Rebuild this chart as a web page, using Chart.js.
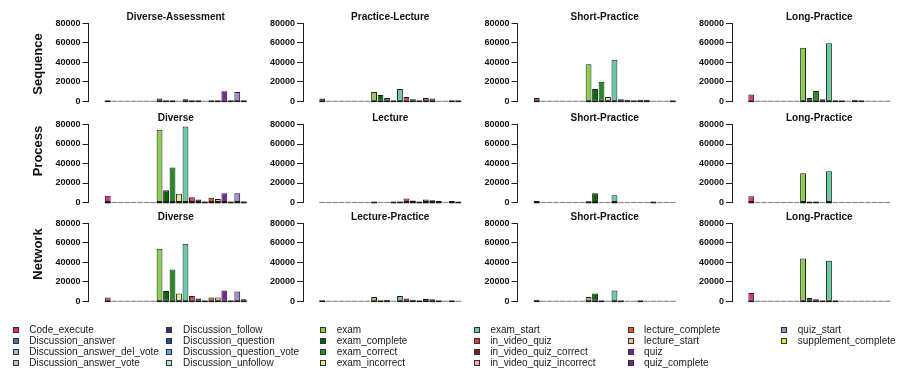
<!DOCTYPE html>
<html>
<head>
<meta charset="utf-8">
<script src="https://cdn.jsdelivr.net/npm/chart.js@4.4.1/dist/chart.umd.min.js"></script>
<style>
  html, body { margin: 0; padding: 0; background: #ffffff; }
  #wrap { position: relative; width: 897px; height: 371px; overflow: hidden; font-family: "Liberation Sans", Arial, sans-serif; }
  #wrap canvas { position: absolute; }
  .rowlab { position: absolute; font-weight: bold; font-size: 13px; color: #111; white-space: nowrap; transform: translate(-50%, -50%) rotate(-90deg); line-height: 15px; }
  .legtxt { position: absolute; font-size: 10px; line-height: 12px; color: #1a1a1a; white-space: nowrap; }
  .legsw { position: absolute; width: 6px; height: 6px; box-sizing: border-box; border: 1px solid #333; }
</style>
</head>
<body>
<div id="wrap"></div>
<script>
// Event types (one bar per type, same order in every panel)
const categories = [
  'Code_execute', 'Discussion_answer', 'Discussion_answer_del_vote', 'Discussion_answer_vote',
  'Discussion_follow', 'Discussion_question', 'Discussion_question_vote', 'Discussion_unfollow',
  'exam', 'exam_complete', 'exam_correct', 'exam_incorrect',
  'exam_start', 'in_video_quiz', 'in_video_quiz_correct', 'in_video_quiz_incorrect',
  'lecture_complete', 'lecture_start', 'quiz', 'quiz_complete',
  'quiz_start', 'supplement_complete'
];
const categoryColors = [
  '#E7298A', '#3A70B8', '#A6B8D8', '#BEC4CA',
  '#3B2D8C', '#1F4F8F', '#4EB3D3', '#A8E0E0',
  '#8CCF4D', '#006400', '#228B22', '#D9EE8F',
  '#66CDA0', '#E8383D', '#8B1A1A', '#F4A7B0',
  '#E8521F', '#F2C28E', '#7B1FA2', '#6E2C7A',
  '#A58BD6', '#E5E13A'
];

const rowNames = ['Sequence', 'Process', 'Network'];
const panelTitles = [
  ['Diverse-Assessment', 'Practice-Lecture', 'Short-Practice', 'Long-Practice'],
  ['Diverse', 'Lecture', 'Short-Practice', 'Long-Practice'],
  ['Diverse', 'Lecture-Practice', 'Short-Practice', 'Long-Practice']
];
const yTickValues = [0, 20000, 40000, 60000, 80000];

// Event counts per cluster
const seqDiverseAssessment = [800, 0, 0, 0, 0, 0, 0, 0, 2800, 400, 400, 0, 2000, 300, 300, 0, 300, 300, 10300, 300, 9500, 300];
const seqPracticeLecture   = [3000, 0, 0, 0, 0, 0, 0, 0, 9500, 6500, 3500, 300, 12500, 4500, 2000, 300, 3500, 2800, 0, 0, 400, 400];
const seqShortPractice     = [3500, 0, 0, 0, 0, 0, 0, 0, 38000, 12500, 20000, 4500, 42500, 2000, 1500, 500, 1500, 1500, 0, 0, 0, 500];
const seqLongPractice      = [7000, 0, 0, 0, 0, 0, 0, 0, 55000, 3300, 10500, 2200, 59500, 1200, 500, 0, 1300, 500, 0, 0, 0, 0];

const procDiverse          = [7000, 0, 0, 0, 0, 0, 0, 0, 74500, 12500, 36000, 9000, 78000, 5500, 3000, 800, 5000, 3500, 9500, 800, 9500, 1000];
const procLecture          = [0, 0, 0, 0, 0, 0, 0, 0, 600, 0, 0, 300, 700, 4000, 2000, 500, 3000, 2300, 1500, 0, 1500, 300];
const procShortPractice    = [1500, 0, 0, 0, 0, 0, 0, 0, 1200, 9500, 0, 0, 7500, 0, 0, 0, 0, 0, 400, 0, 0, 0];
const procLongPractice     = [6500, 0, 0, 0, 0, 0, 0, 0, 30000, 500, 500, 0, 32000, 0, 0, 0, 0, 0, 0, 0, 0, 0];

const netDiverse           = [3800, 0, 0, 0, 0, 0, 0, 0, 54000, 10500, 32500, 8000, 59000, 5500, 2800, 500, 3800, 3800, 11000, 500, 10000, 2000];
const netLecturePractice   = [1000, 0, 0, 0, 0, 0, 0, 0, 4500, 800, 1500, 0, 5500, 3000, 1500, 500, 2500, 2000, 500, 0, 500, 0];
const netShortPractice     = [1500, 0, 0, 0, 0, 0, 0, 0, 4500, 8000, 500, 0, 11000, 500, 0, 0, 500, 0, 0, 0, 0, 0];
const netLongPractice      = [8500, 0, 0, 0, 0, 0, 0, 0, 44000, 3500, 2000, 500, 41500, 500, 0, 0, 0, 0, 0, 0, 0, 0];

const panelValues = [
  [seqDiverseAssessment, seqPracticeLecture, seqShortPractice, seqLongPractice],
  [procDiverse, procLecture, procShortPractice, procLongPractice],
  [netDiverse, netLecturePractice, netShortPractice, netLongPractice]
];

// Grid geometry
const AXIS_X0 = 88.5, COL_STEP = 214.5, PLOT_W = 174.5;
const PLOT_TOPS = [23.3, 124.5, 223.3], PLOT_H = 78;
const Y_W = 56;
const FONT = '"Liberation Sans", Arial, sans-serif';

// Panel title above the plot region
const panelTitle = {
  id: 'panelTitle',
  afterDraw(chart, args, opts) {
    const { ctx, chartArea } = chart;
    ctx.save();
    ctx.font = 'bold 10px ' + FONT;
    ctx.fillStyle = '#111';
    ctx.textAlign = 'center';
    ctx.textBaseline = 'middle';
    ctx.fillText(opts.text, (chartArea.left + chartArea.right) / 2, chartArea.top - 6.5);
    ctx.restore();
  }
};

// Every bar keeps a base stroke: grey for empty bars, dark for the rest,
// so very small counts still read as a thin dark sliver.
const barBase = {
  id: 'barBase',
  afterDatasetsDraw(chart) {
    const { ctx } = chart;
    const meta = chart.getDatasetMeta(0);
    const pts = chart.data.datasets[0].data;
    const y0 = chart.scales.y.getPixelForValue(0);
    ctx.save();
    meta.data.forEach((bar, i) => {
      const empty = pts[i].y === 0;
      const { x, width } = bar.getProps(['x', 'width'], true);
      ctx.strokeStyle = empty ? '#8c8c8c' : '#1a1a1a';
      ctx.lineWidth = empty ? 1.2 : 1.6;
      ctx.beginPath();
      ctx.moveTo(x - width / 2, y0);
      ctx.lineTo(x + width / 2, y0);
      ctx.stroke();
    });
    ctx.restore();
  }
};

const wrap = document.getElementById('wrap');

panelValues.forEach((row, r) => {
  row.forEach((values, c) => {
    const axisX = AXIS_X0 + COL_STEP * c;
    const plotTop = PLOT_TOPS[r];
    const left = Math.floor(axisX - Y_W - 2);
    const top = Math.floor(plotTop - 20);
    const width = Math.ceil(axisX - left + PLOT_W + 3);
    const height = Math.ceil(plotTop - top + PLOT_H + 8);
    const padLeft = axisX - Y_W - left;
    const padTop = plotTop - top;
    const padRight = width - (axisX - left) - PLOT_W;
    const padBottom = height - padTop - PLOT_H;

    const cv = document.createElement('canvas');
    cv.width = width; cv.height = height;
    cv.style.left = left + 'px'; cv.style.top = top + 'px';
    cv.style.width = width + 'px'; cv.style.height = height + 'px';
    wrap.appendChild(cv);

    new Chart(cv, {
      type: 'bar',
      data: {
        datasets: [{
          data: values.map((v, i) => ({ x: i, y: v })),
          backgroundColor: categoryColors,
          borderColor: '#1a1a1a',
          borderWidth: 1,
          borderSkipped: false,
          categoryPercentage: 1,
          barPercentage: 0.9
        }]
      },
      options: {
        responsive: false,
        animation: false,
        devicePixelRatio: 1,
        layout: { padding: { left: padLeft, top: padTop, right: padRight, bottom: padBottom } },
        plugins: {
          legend: { display: false },
          tooltip: { enabled: false },
          panelTitle: { text: panelTitles[r][c] }
        },
        scales: {
          x: {
            type: 'linear',
            display: false,
            min: -1.29,
            max: categories.length - 1 + 1.29,
            afterBuildTicks(s) { s.ticks = categories.map((_, i) => ({ value: i })); }
          },
          y: {
            min: 0,
            max: 80000,
            afterBuildTicks(s) { s.ticks = yTickValues.map(v => ({ value: v })); },
            afterFit(s) { s.width = Y_W; },
            ticks: {
              font: { family: FONT, size: 9, weight: 'bold' },
              color: '#111',
              padding: 2,
              callback: v => String(v)
            },
            grid: { display: true, drawOnChartArea: false, drawTicks: true, tickLength: 6, color: '#222' },
            border: { display: true, color: '#222', width: 1 }
          }
        }
      },
      plugins: [panelTitle, barBase]
    });
  });
});

// Row labels
const rowCenters = [63.5, 151, 254];
rowNames.forEach((name, r) => {
  const d = document.createElement('div');
  d.className = 'rowlab';
  d.textContent = name;
  d.style.left = '37px';
  d.style.top = rowCenters[r] + 'px';
  wrap.appendChild(d);
});

// Legend, filled column by column
const LEG_X0 = 12.7, LEG_COL = 153.7, LEG_Y0 = 329.5, LEG_ROW = 11.2, LEG_PER_COL = 4;
categories.forEach((name, k) => {
  const col = Math.floor(k / LEG_PER_COL), row = k % LEG_PER_COL;
  const x = LEG_X0 + LEG_COL * col, y = LEG_Y0 + LEG_ROW * row;
  const sw = document.createElement('div');
  sw.className = 'legsw';
  sw.style.left = x + 'px';
  sw.style.top = (y - 3) + 'px';
  sw.style.background = categoryColors[k];
  wrap.appendChild(sw);
  const t = document.createElement('div');
  t.className = 'legtxt';
  t.textContent = name;
  t.style.left = (x + 16.6) + 'px';
  t.style.top = (y - 6) + 'px';
  wrap.appendChild(t);
});
</script>
</body>
</html>
